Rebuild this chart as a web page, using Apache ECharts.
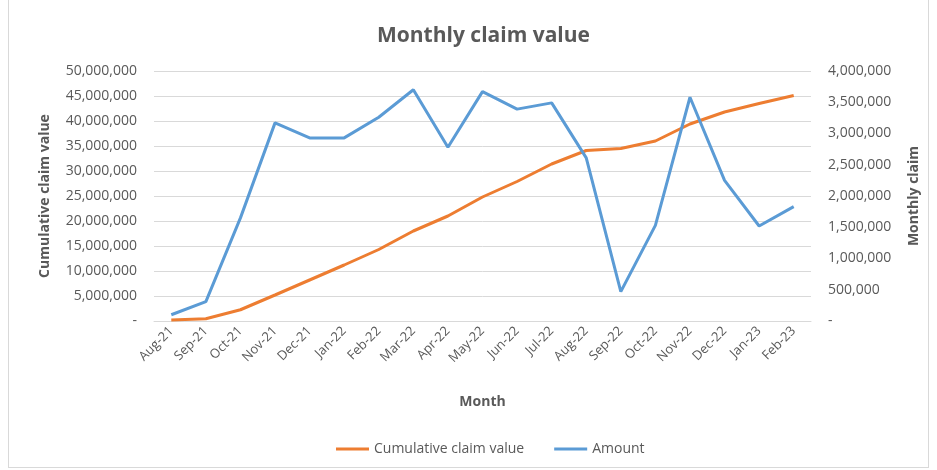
<!DOCTYPE html>
<html>
<head>
<meta charset="utf-8">
<script src="https://cdn.jsdelivr.net/npm/echarts@6/dist/echarts.min.js"></script>
<style>
  html, body { margin: 0; padding: 0; background: #fff; }
  #chart { position: absolute; left: 8px; top: 0; width: 921px; height: 468px; border: 1px solid #d9d9d9; border-top: none; box-sizing: border-box; }
</style>
</head>
<body>
<div id="chart"></div>
<script>
const months = ['Aug-21', 'Sep-21', 'Oct-21', 'Nov-21', 'Dec-21', 'Jan-22', 'Feb-22', 'Mar-22', 'Apr-22', 'May-22',
  'Jun-22', 'Jul-22', 'Aug-22', 'Sep-22', 'Oct-22', 'Nov-22', 'Dec-22', 'Jan-23', 'Feb-23'];
const cumulative = [200000, 450000, 2250000, 5200000, 8200000, 11200000, 14300000, 18000000, 21000000, 24800000,
  27900000, 31400000, 34100000, 34500000, 36000000, 39400000, 41800000, 43500000, 45100000];
const amount = [100000, 310000, 1650000, 3170000, 2930000, 2930000, 3260000, 3700000, 2780000, 3670000,
  3390000, 3490000, 2610000, 470000, 1530000, 3580000, 2250000, 1520000, 1830000];

const fontFamily = '"Open Sans", sans-serif';
const grey = '#595959';
const fmt = v => (v === 0 ? '-' : v.toLocaleString('en-US'));

const chart = echarts.init(document.getElementById('chart'));
chart.setOption({
  backgroundColor: '#fff',
  textStyle: { fontFamily },
  title: {
    text: 'Monthly claim value',
    left: 363,
    top: 21,
    textStyle: { fontSize: 21, fontWeight: 'bold', color: grey, fontFamily }
  },
  grid: { left: 145, right: 117, top: 71, bottom: 146, outerBoundsMode: 'none' },
  legend: {
    bottom: 6,
    left: 322,
    itemWidth: 33,
    itemHeight: 3,
    itemGap: 30,
    icon: 'rect',
    textStyle: { fontSize: 14, color: grey },
    data: ['Cumulative claim value', 'Amount']
  },
  xAxis: {
    type: 'category',
    data: months,
    name: 'Month',
    nameLocation: 'middle',
    nameGap: 74,
    nameTextStyle: { fontSize: 14, fontWeight: 'bold', color: grey },
    axisLine: { lineStyle: { color: '#d9d9d9' } },
    axisTick: { show: false },
    axisLabel: { rotate: 45, color: grey, fontSize: 13, margin: 8, interval: 0 }
  },
  yAxis: [
    {
      type: 'value',
      min: 0,
      max: 50000000,
      interval: 5000000,
      name: 'Cumulative claim value',
      nameLocation: 'middle',
      nameGap: 102,
      nameTextStyle: { fontSize: 14, fontWeight: 'bold', color: grey },
      axisLine: { show: false },
      axisTick: { show: false },
      axisLabel: { color: grey, fontSize: 14, margin: 17, formatter: fmt },
      splitLine: { lineStyle: { color: '#d9d9d9' } }
    },
    {
      type: 'value',
      min: 0,
      max: 4000000,
      interval: 500000,
      name: 'Monthly claim',
      nameLocation: 'middle',
      nameGap: 96,
      nameTextStyle: { fontSize: 14, fontWeight: 'bold', color: grey },
      axisLine: { show: false },
      axisTick: { show: false },
      axisLabel: { color: grey, fontSize: 14, margin: 17, formatter: fmt },
      splitLine: { show: false }
    }
  ],
  series: [
    {
      name: 'Cumulative claim value',
      type: 'line',
      yAxisIndex: 0,
      data: cumulative,
      symbol: 'none',
      lineStyle: { color: '#ED7D31', width: 3 },
      itemStyle: { color: '#ED7D31' }
    },
    {
      name: 'Amount',
      type: 'line',
      yAxisIndex: 1,
      data: amount,
      symbol: 'none',
      lineStyle: { color: '#5B9BD5', width: 3 },
      itemStyle: { color: '#5B9BD5' }
    }
  ]
});
</script>
</body>
</html>
